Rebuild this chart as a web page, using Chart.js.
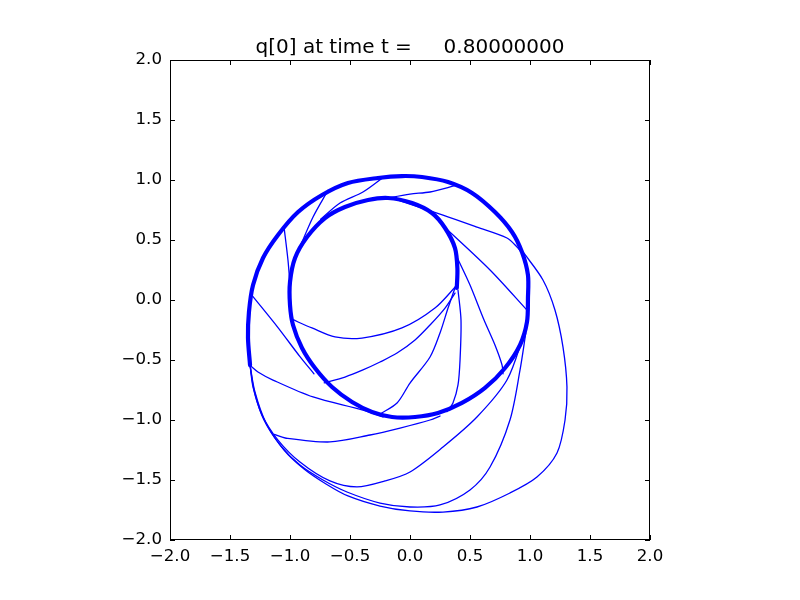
<!DOCTYPE html>
<html>
<head>
<meta charset="utf-8">
<script src="https://cdn.jsdelivr.net/npm/chart.js@4/dist/chart.umd.min.js"></script>
<style>
  html, body { margin: 0; padding: 0; background: #ffffff; }
  #wrap { width: 800px; height: 600px; }
</style>
</head>
<body>
<div id="wrap"><canvas id="c" width="800" height="600"></canvas></div>
<script>
// ---- tick values and labels ----
const xTickValues = [-2, -1.5, -1, -0.5, 0, 0.5, 1, 1.5, 2];
const xTickLabels = ['\u22122.0', '\u22121.5', '\u22121.0', '\u22120.5', '0.0', '0.5', '1.0', '1.5', '2.0'];
const yTickValues = [-2, -1.5, -1, -0.5, 0, 0.5, 1, 1.5, 2];
const yTickLabels = ['\u22122.0', '\u22121.5', '\u22121.0', '\u22120.5', '0.0', '0.5', '1.0', '1.5', '2.0'];
const titleText = 'q[0] at time t =     0.80000000';

// ---- curves (x, y) ----
// thick ring: inner loop, bottom, outer right, over the top, outer left
const ringCurve = [
  [0.390, 0.100], [0.395, 0.260], [0.375, 0.433], [0.292, 0.600], [0.183, 0.725],
  [0.017, 0.808], [-0.183, 0.850], [-0.350, 0.833], [-0.542, 0.775], [-0.708, 0.683],
  [-0.858, 0.525], [-0.958, 0.350], [-1.000, 0.150], [-1.000, -0.042], [-0.975, -0.208],
  [-0.900, -0.400], [-0.792, -0.567], [-0.650, -0.725], [-0.483, -0.850], [-0.317, -0.933],
  [-0.150, -0.975], [0.042, -0.975], [0.233, -0.942], [0.433, -0.858], [0.625, -0.733],
  [0.792, -0.567], [0.917, -0.375], [0.975, -0.183], [0.983, 0.017], [0.983, 0.208],
  [0.933, 0.400], [0.850, 0.567], [0.708, 0.733], [0.517, 0.892], [0.317, 0.983],
  [0.100, 1.025], [-0.067, 1.033], [-0.267, 1.017], [-0.517, 0.975], [-0.733, 0.875],
  [-0.933, 0.733], [-1.100, 0.542], [-1.225, 0.350], [-1.308, 0.125], [-1.342, -0.100],
  [-1.350, -0.317], [-1.333, -0.542]
];
// thin lines between outer and inner ring (top half)
const line1 = [[-1.050, 0.610], [-1.017, 0.333], [-1.000, 0.125]];
const line2 = [[-0.683, 0.915], [-0.808, 0.692], [-0.917, 0.442], [-0.975, 0.300]];
const line3 = [[-0.225, 1.020], [-0.392, 0.900], [-0.583, 0.808], [-0.745, 0.672]];
const line4 = [[0.383, 0.955], [0.167, 0.900], [0.000, 0.883], [-0.225, 0.843]];
const line5 = [[-0.100, 0.832], [0.275, 0.708], [0.558, 0.608], [0.808, 0.517], [0.892, 0.442], [0.933, 0.390]];
const line6 = [[0.285, 0.610], [0.667, 0.250], [0.980, -0.090]];
// fan of lines leaving the right side of the inner ring
const fanA = [[0.392, 0.125], [0.208, -0.067], [-0.067, -0.233], [-0.400, -0.317], [-0.625, -0.308], [-0.817, -0.233], [-0.985, -0.160]];
const fanB = [[0.375, 0.058], [0.292, -0.067], [0.167, -0.208], [0.042, -0.333], [-0.108, -0.442], [-0.250, -0.517], [-0.392, -0.583], [-0.542, -0.642], [-0.715, -0.690]];
const fanC = [[0.392, 0.150], [0.317, -0.067], [0.250, -0.275], [0.167, -0.475], [0.000, -0.692], [-0.108, -0.858], [-0.250, -0.950]];
const fanD = [[0.400, 0.083], [0.425, -0.167], [0.417, -0.500], [0.400, -0.708], [0.358, -0.858], [0.308, -0.930]];
const fanE = [[0.395, 0.350], [0.500, 0.125], [0.617, -0.167], [0.708, -0.375], [0.767, -0.542], [0.775, -0.615]];
// lower-left lines from the outer boundary to the inner ring
const lineF = [[-1.310, 0.030], [-1.100, -0.230], [-0.917, -0.472], [-0.800, -0.615]];
const lineG = [[-1.333, -0.545], [-1.267, -0.600], [-1.142, -0.667], [-0.808, -0.808], [-0.392, -0.917], [-0.225, -0.975]];
const lineH = [[-1.130, -1.120], [-1.040, -1.150], [-0.667, -1.183], [-0.333, -1.125], [-0.083, -1.067], [0.167, -1.000], [0.250, -0.967]];
// bottom boundary lines sweeping round to the right
const lineI = [[-1.333, -0.542], [-1.308, -0.725], [-1.233, -0.958], [-1.100, -1.167], [-0.917, -1.350], [-0.667, -1.508], [-0.442, -1.558], [-0.208, -1.508], [0.000, -1.433], [0.275, -1.225], [0.558, -0.975], [0.808, -0.667], [0.942, -0.308], [0.983, -0.167]];
const lineJ = [[-1.333, -0.542], [-1.300, -0.750], [-1.217, -1.000], [-1.075, -1.217], [-0.917, -1.375], [-0.725, -1.500], [-0.525, -1.600], [-0.250, -1.692], [0.000, -1.725], [0.250, -1.708], [0.500, -1.583], [0.667, -1.392], [0.833, -1.000], [0.917, -0.583], [0.965, -0.275]];
const lineK = [[-1.333, -0.542], [-1.292, -0.767], [-1.200, -1.025], [-1.050, -1.250], [-0.883, -1.408], [-0.700, -1.533], [-0.517, -1.633], [-0.250, -1.717], [0.000, -1.758], [0.275, -1.767], [0.558, -1.725], [0.833, -1.608], [1.058, -1.475], [1.225, -1.275], [1.292, -1.000], [1.308, -0.725], [1.275, -0.392], [1.208, -0.083], [1.108, 0.167], [0.950, 0.390]];

const thinCurves = [line1, line2, line3, line4, line5, line6, fanA, fanB, fanC, fanD, fanE, lineF, lineG, lineH, lineI, lineJ, lineK];

const FONT = 'DejaVu Sans';
const BLUE = '#0000ff';

function toPts(arr) { return arr.map(p => ({ x: p[0], y: p[1] })); }
function ds(arr, w) {
  return {
    data: toPts(arr), showLine: true, borderColor: BLUE, backgroundColor: BLUE,
    borderWidth: w, pointRadius: 0, pointHoverRadius: 0, tension: 0.3,
    borderJoinStyle: 'round', borderCapStyle: 'round', fill: false
  };
}
const datasets = [ds(ringCurve, 4.2)].concat(thinCurves.map(c => ds(c, 1.3)));

function labelFor(values, labels) {
  return function (value) {
    const i = values.findIndex(v => Math.abs(v - value) < 1e-9);
    return i >= 0 ? labels[i] : '';
  };
}

const frameTicks = {
  id: 'frameTicks',
  afterDraw(chart) {
    const { ctx, chartArea: a, scales } = chart;
    const L = 5;
    ctx.save();
    ctx.strokeStyle = '#000';
    ctx.lineWidth = 1;
    ctx.beginPath();
    xTickValues.forEach(v => {
      const px = Math.round(scales.x.getPixelForValue(v)) + 0.5;
      ctx.moveTo(px, a.bottom); ctx.lineTo(px, a.bottom - L);
      ctx.moveTo(px, a.top); ctx.lineTo(px, a.top + L);
    });
    yTickValues.forEach(v => {
      const py = Math.round(scales.y.getPixelForValue(v)) + 0.5;
      ctx.moveTo(a.left, py); ctx.lineTo(a.left + L, py);
      ctx.moveTo(a.right, py); ctx.lineTo(a.right - L, py);
    });
    ctx.stroke();
    ctx.strokeRect(a.left + 0.5, a.top + 0.5, a.right - a.left - 1, a.bottom - a.top - 1);
    ctx.restore();
  }
};

new Chart(document.getElementById('c'), {
  type: 'scatter',
  data: { datasets },
  options: {
    responsive: false,
    animation: false,
    devicePixelRatio: 1,
    layout: { padding: { left: 0, right: 150, top: 0, bottom: 0 } },
    plugins: {
      legend: { display: false },
      tooltip: { enabled: false },
      title: {
        display: true, text: titleText, color: '#000', fullSize: false,
        font: { family: FONT, size: 20, weight: 'normal', lineHeight: 1.0 },
        padding: { top: 38, bottom: 2 }
      }
    },
    scales: {
      x: {
        type: 'linear', position: 'bottom', min: -2, max: 2,
        grid: { display: false, drawTicks: false },
        border: { display: false },
        ticks: { stepSize: 0.5, color: '#000', padding: 7, maxRotation: 0,
                 font: { family: FONT, size: 16.67, lineHeight: 1.2 },
                 callback: labelFor(xTickValues, xTickLabels) },
        afterFit(scale) { scale.height = 60; }
      },
      y: {
        type: 'linear', position: 'left', min: -2, max: 2,
        grid: { display: false, drawTicks: false },
        border: { display: false },
        ticks: { stepSize: 0.5, color: '#000', padding: 8,
                 font: { family: FONT, size: 16.67, lineHeight: 1.2 },
                 callback: labelFor(yTickValues, yTickLabels) },
        afterFit(scale) { scale.width = 170; }
      }
    }
  },
  plugins: [frameTicks]
});
</script>
</body>
</html>
